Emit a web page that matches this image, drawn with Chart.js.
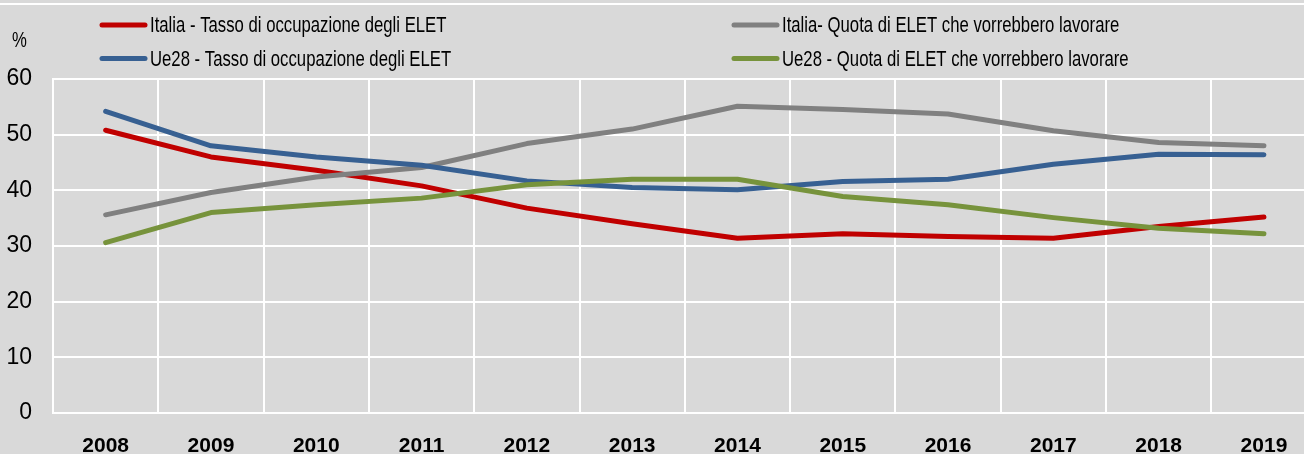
<!DOCTYPE html>
<html>
<head>
<meta charset="utf-8">
<script src="https://cdn.jsdelivr.net/npm/chart.js@4/dist/chart.umd.min.js"></script>
<style>
    html, body { margin: 0; padding: 0; background: #d9d9d9; overflow: hidden; }
    #wrap { position: absolute; left: 0; top: 0; width: 1320px; height: 462px; }
</style>
</head>
<body>
<div id="wrap"><canvas id="elet-chart"></canvas></div>
<script>
    const years = ['2008', '2009', '2010', '2011', '2012', '2013', '2014', '2015', '2016', '2017', '2018', '2019'];
    const italiaOccupazione = [50.8, 46.0, 43.6, 40.8, 36.8, 34.0, 31.4, 32.2, 31.7, 31.4, 33.5, 35.2];
    const italiaQuota = [35.6, 39.6, 42.4, 44.1, 48.4, 51.0, 55.1, 54.5, 53.7, 50.7, 48.6, 48.0];
    const ue28Occupazione = [54.2, 48.0, 46.0, 44.5, 41.7, 40.5, 40.1, 41.6, 42.0, 44.7, 46.5, 46.4];
    const ue28Quota = [30.6, 36.0, 37.4, 38.6, 41.0, 42.0, 42.0, 38.9, 37.4, 35.1, 33.2, 32.2];
    const yTicks = [0, 10, 20, 30, 40, 50, 60];

    const FONT = "'Liberation Sans Narrow', 'Arial Narrow', 'Liberation Sans', Arial, sans-serif";
    const NARROW = 0.76; // il testo dell'originale e' molto stretto

    function serie(label, data, color, order) {
        return {
            label: label,
            data: data,
            borderColor: color,
            backgroundColor: color,
            borderWidth: 5,
            borderCapStyle: 'round',
            borderJoinStyle: 'round',
            pointRadius: 0,
            tension: 0,
            order: order
        };
    }

    // testo compresso in orizzontale
    function narrowText(ctx, text, x, y, align) {
        ctx.save();
        ctx.translate(x, y);
        ctx.scale(NARROW, 1);
        ctx.textAlign = align;
        ctx.fillText(text, 0, 0);
        ctx.restore();
    }

    // legenda a due colonne + "%" + riga bianca in alto
    const extras = {
        id: 'extras',
        afterDraw(chart) {
            const ctx = chart.ctx;
            ctx.save();
            ctx.fillStyle = '#ffffff';
            ctx.fillRect(0, 3, chart.width, 2);

            ctx.fillStyle = '#000000';
            ctx.font = '22px ' + FONT;
            ctx.textBaseline = 'middle';
            narrowText(ctx, '%', 19.5, 41, 'center');

            const cols = [100, 732];
            const rows = [25, 58.5];
            chart.data.datasets.forEach((ds, i) => {
                const x = cols[i % 2];
                const y = rows[Math.floor(i / 2)];
                ctx.strokeStyle = ds.borderColor;
                ctx.lineWidth = 5;
                ctx.lineCap = 'round';
                ctx.beginPath();
                ctx.moveTo(x + 2, y);
                ctx.lineTo(x + 45, y);
                ctx.stroke();
                ctx.fillStyle = '#000000';
                narrowText(ctx, ds.label, x + 50, y + 1, 'left');
            });
            ctx.restore();
        }
    };

    const ctx = document.getElementById('elet-chart').getContext('2d');
    const myChart = new Chart(ctx, {
        type: 'line',
        data: {
            labels: years,
            datasets: [
                serie('Italia - Tasso di occupazione degli ELET', italiaOccupazione, '#c00000', 3),
                serie('Italia- Quota di ELET che vorrebbero lavorare', italiaQuota, '#808080', 2),
                serie('Ue28 - Tasso di occupazione degli ELET', ue28Occupazione, '#376092', 1),
                serie('Ue28 - Quota di ELET che vorrebbero lavorare', ue28Quota, '#77933c', 0)
            ]
        },
        options: {
            responsive: true,
            maintainAspectRatio: false,
            animation: false,
            layout: {
                padding: { top: 79, left: 0, right: 3.4, bottom: 0 }
            },
            plugins: {
                legend: { display: false },
                tooltip: { enabled: false }
            },
            scales: {
                x: {
                    offset: true,
                    grid: {
                        offset: true,
                        color: '#ffffff',
                        lineWidth: 2,
                        drawTicks: false
                    },
                    border: { color: '#ffffff', width: 2 },
                    ticks: {
                        color: '#000000',
                        padding: 21,
                        maxRotation: 0,
                        font: { family: FONT, size: 21, weight: 'bold' }
                    },
                    afterFit: (axis) => { axis.height = 49; }
                },
                y: {
                    min: 0,
                    max: 60,
                    afterBuildTicks: (axis) => { axis.ticks = yTicks.map(v => ({ value: v })); },
                    grid: {
                        color: '#ffffff',
                        lineWidth: 2,
                        drawTicks: false
                    },
                    border: { color: '#ffffff', width: 2 },
                    ticks: {
                        color: '#000000',
                        padding: 21,
                        font: { family: FONT, size: 23 }
                    },
                    afterFit: (axis) => { axis.width = 53; }
                }
            }
        },
        plugins: [extras]
    });
</script>
</body>
</html>
